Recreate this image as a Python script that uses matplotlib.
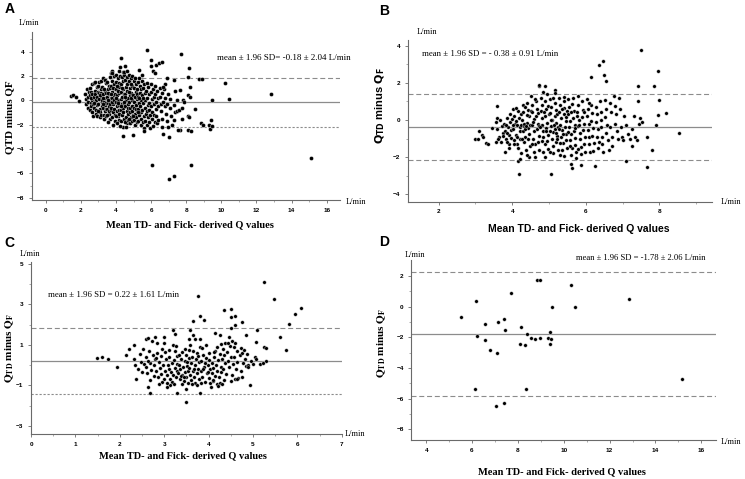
import matplotlib
matplotlib.use('Agg')
import matplotlib.pyplot as plt
import numpy as np
from matplotlib.ticker import FixedLocator

SERIF = 'Liberation Serif'
SANS = 'Liberation Sans'
W, H = 745.0, 479.0

# ---------------- panel A : all patients ----------------
a_pts = [
    # left stragglers
    (1.42, 0.38), (1.53, 0.44), (1.73, 0.30), (1.90, -0.05),
    # main cluster, read column by column
    (2.25, 0.5), (2.3, 0.1), (2.28, -0.3), (2.35, 0.9), (2.4, -0.6), (2.42, 0.3), (2.38, -0.1), (2.45, 0.7),
    (2.5, 1.0), (2.52, 0.4), (2.55, -0.2), (2.5, -0.8), (2.6, 0.7), (2.62, 0.0), (2.58, -0.5), (2.65, 1.3),
    (2.68, 0.2), (2.66, -1.0), (2.7, -0.3), (2.55, 0.15), (2.62, 0.55), (2.7, -1.3),
    (2.75, 1.4), (2.78, 0.8), (2.72, 0.3), (2.8, -0.1), (2.76, -0.6), (2.85, -1.1), (2.82, 0.5), (2.9, 1.1),
    (2.88, 0.0), (2.92, -0.4), (2.95, 0.7), (2.86, -0.8), (2.93, 0.25), (2.8, 1.5), (2.74, -0.25), (2.9, -1.3),
    (3.0, 1.2), (3.02, 0.6), (3.05, 0.1), (3.0, -0.3), (3.08, -0.7), (3.1, -1.0), (3.12, 0.9), (3.15, 0.35),
    (3.18, -0.15), (3.2, -0.5), (3.05, 1.5), (3.1, -1.4), (3.14, 1.6), (3.17, 0.6), (3.0, -0.9), (3.2, 0.0),
    (3.07, 0.4), (3.15, -1.2),
    (3.25, 1.8), (3.22, 1.1), (3.28, 0.5), (3.3, -0.1), (3.26, -0.6), (3.32, -1.2), (3.35, 0.8), (3.38, 0.2),
    (3.4, -0.4), (3.36, -0.9), (3.42, 1.4), (3.45, 0.6), (3.44, -0.2), (3.3, -1.5), (3.38, 1.7), (3.24, 0.2),
    (3.33, 0.95), (3.41, -0.75), (3.28, -0.3), (3.45, -1.3),
    (3.5, 1.5), (3.52, 0.9), (3.48, 0.3), (3.55, -0.2), (3.5, -0.7), (3.58, -1.1), (3.6, 1.2), (3.62, 0.5),
    (3.65, -0.05), (3.6, -0.5), (3.68, -1.5), (3.55, -1.8), (3.7, 2.2), (3.66, 1.0), (3.7, 0.2), (3.63, -0.9),
    (3.52, 0.6), (3.57, 0.0), (3.68, -0.3), (3.49, -1.2), (3.64, 1.9), (3.7, -0.8),
    (3.75, 2.4), (3.78, 1.6), (3.72, 1.2), (3.8, 0.7), (3.76, 0.2), (3.82, -0.3), (3.74, -0.6), (3.85, -1.0),
    (3.8, -1.4), (3.88, 2.0), (3.9, 1.3), (3.86, 0.4), (3.92, -0.1), (3.9, -0.7), (3.95, -1.7), (3.84, -2.0),
    (3.94, 0.9), (3.78, -0.15), (3.83, 1.0), (3.93, -1.2), (3.73, 0.5), (3.89, 0.05), (3.8, 2.2), (3.95, 0.5),
    (4.0, 2.1), (4.02, 1.5), (3.98, 0.9), (4.05, 0.4), (4.0, -0.1), (4.08, -0.5), (4.04, -0.9), (4.1, -1.3),
    (4.12, 1.8), (4.15, 1.1), (4.18, 0.6), (4.14, 0.0), (4.2, -0.4), (4.16, -0.8), (4.2, -1.6), (4.06, -1.9),
    (4.1, 0.8), (4.18, 1.4), (4.02, 0.2), (4.13, -0.2), (4.19, 2.4), (3.99, -1.3), (4.07, 1.2), (4.17, -1.1),
    (4.25, 2.7), (4.22, 2.0), (4.28, 1.3), (4.3, 0.7), (4.26, 0.1), (4.32, -0.3), (4.28, -0.8), (4.35, -1.2),
    (4.3, -1.7), (4.38, 2.3), (4.4, 1.6), (4.42, 0.9), (4.36, 0.3), (4.44, -0.2), (4.4, -0.6), (4.45, -1.5),
    (4.38, -2.2), (4.24, -2.1), (4.33, 1.0), (4.43, 0.5), (4.27, -0.45), (4.41, -1.0), (4.35, 1.9), (4.45, 2.1),
    (4.5, 2.8), (4.48, 2.3), (4.52, 1.7), (4.55, 1.1), (4.5, 0.5), (4.58, 0.0), (4.54, -0.5), (4.6, -0.9),
    (4.56, -1.4), (4.62, -1.9), (4.65, 2.4), (4.68, 1.4), (4.64, 0.8), (4.7, 0.2), (4.66, -0.3), (4.7, -1.1),
    (4.6, 1.9), (4.49, -1.8), (4.57, -2.2), (4.68, -1.6), (4.53, 0.3), (4.61, 1.3), (4.69, -0.65), (4.47, -0.1),
    (4.75, 2.1), (4.72, 1.6), (4.78, 1.0), (4.8, 0.4), (4.76, -0.1), (4.82, -0.6), (4.78, -1.0), (4.85, -1.4),
    (4.8, -1.9), (4.88, 1.8), (4.9, 1.2), (4.86, 0.6), (4.92, 0.0), (4.9, -0.5), (4.95, -1.2), (4.94, -1.7),
    (4.73, 0.7), (4.84, 0.15), (4.91, -0.9), (4.77, -1.5), (4.93, 2.0), (4.83, 1.35),
    (5.0, 1.6), (5.02, 1.0), (4.98, 0.4), (5.05, -0.1), (5.0, -0.6), (5.08, -1.1), (5.04, -1.6), (5.1, -2.0),
    (5.12, 1.3), (5.15, 0.7), (5.18, 0.1), (5.14, -0.4), (5.2, -0.9), (5.16, -1.4), (5.1, 1.8), (5.06, 0.3),
    (5.19, -1.8), (4.99, -1.3), (5.13, -0.7), (5.2, 0.5),
    (5.25, 1.5), (5.22, 0.9), (5.28, 0.3), (5.3, -0.2), (5.26, -0.7), (5.32, -1.2), (5.28, -1.7), (5.35, 1.2),
    (5.38, 0.6), (5.4, 0.0), (5.36, -0.5), (5.42, -1.0), (5.4, -1.5), (5.45, -2.0), (5.24, -1.0), (5.33, 0.15),
    (5.44, 0.9), (5.3, 1.8),
    (5.5, 1.6), (5.52, 1.0), (5.48, 0.4), (5.55, -0.2), (5.5, -0.8), (5.58, -1.3), (5.54, -1.8), (5.6, -2.3),
    (5.62, 1.3), (5.65, 0.6), (5.68, 0.0), (5.64, -0.6), (5.7, -1.1), (5.66, -1.7), (5.57, -2.5), (5.52, 0.2),
    (5.75, 1.4), (5.72, 0.8), (5.78, 0.2), (5.8, -0.4), (5.76, -0.9), (5.82, -1.4), (5.78, -2.0), (5.85, 1.1),
    (5.88, 0.5), (5.9, -0.2), (5.86, -0.8), (5.92, -1.2), (5.9, -1.8), (5.95, -2.3),
    (6.0, 1.3), (6.02, 0.7), (6.05, 0.1), (6.0, -0.5), (6.08, -1.0), (6.04, -1.5), (6.1, -2.1), (6.12, 0.9),
    (6.15, 0.3), (6.18, -0.3), (6.14, -1.2), (6.2, -1.8),
    (6.25, 1.2), (6.22, 0.5), (6.28, -0.1), (6.3, -0.7), (6.26, -1.3), (6.32, -1.9), (6.35, 0.8), (6.4, 0.2),
    (6.38, -0.5), (6.42, -1.6),
    (6.5, 1.0), (6.52, 0.3), (6.55, -0.3), (6.58, -0.9), (6.6, -1.5), (6.65, 0.6), (6.68, -0.1), (6.62, -2.2),
    (6.75, 0.9), (6.8, 0.2), (6.78, -0.5), (6.85, -1.1), (6.9, -1.7), (6.95, 0.5), (6.92, -0.3), (6.98, -2.2),
    (7.05, 0.1), (7.1, -0.6), (7.15, -1.3), (7.2, -2.0), (7.3, -0.4), (7.35, -1.0), (7.45, 0.0), (7.5, -0.9),
    # scattered points outside the cluster
    (4.27, 3.44), (5.75, 4.13), (5.98, 3.3), (7.7, 3.77), (8.16, 2.62), (6.0, 2.8), (6.1, 2.4), (6.3, 2.9),
    (6.45, 3.05), (6.6, 3.15), (6.2, 2.2), (8.75, 1.75), (8.88, 1.72), (10.23, 1.45), (9.45, 0.03),
    (10.45, 0.08), (12.85, 0.55), (15.12, -4.7), (6.07, -5.27), (8.27, -5.27), (7.02, -6.42), (7.32, -6.2),
    (4.38, -2.9), (4.99, -2.87), (6.7, -2.8), (7.04, -2.98), (7.65, -2.43), (8.08, -2.45), (8.25, -2.49),
    (8.48, -0.68), (8.85, -1.9), (8.95, -2.0), (9.3, -2.05), (9.35, -2.35), (9.4, -1.65), (9.45, -2.1),
    (8.12, 1.88), (8.2, 1.05), (8.12, 0.45), (8.2, 0.3), (7.8, 0.0), (7.9, -0.1), (7.57, -0.8), (7.75, -0.6),
    (7.75, -1.55), (8.12, -1.3), (8.18, -1.4), (7.3, 1.7), (7.35, 0.8), (7.65, 0.85), (6.8, 1.35), (6.7, 1.05),
    (5.5, 2.1), (5.3, 2.5), (6.9, 1.8), (7.3, -1.6), (7.55, -2.4),
]
a_mean, a_hi, a_lo = -0.18, 1.86, -2.22

# ---------------- panel B ----------------
b_pts = [
    (3.0, -1.0), (3.07, -1.0), (3.1, -0.58), (3.18, -0.8), (3.22, -0.93), (3.3, -1.22), (3.33, -1.3),
    (3.59, 0.75), (3.45, -0.45),
    (3.55, -0.1), (3.6, 0.1), (3.58, -0.5), (3.65, -0.9), (3.7, -1.2), (3.72, -0.35), (3.62, -1.0), (3.68, 0.0),
    (3.74, -0.7), (3.56, -1.2),
    (3.78, -0.2), (3.8, -0.6), (3.82, -1.0), (3.85, 0.1), (3.88, -0.4), (3.9, -0.8), (3.92, -1.3), (3.95, -0.1),
    (3.98, -0.55), (3.8, -1.7), (3.86, -1.2), (3.93, 0.3), (3.97, -0.95), (3.76, -0.85), (3.84, -0.3),
    (3.9, -1.5), (3.99, 0.05), (3.87, -0.7),
    (4.02, 0.6), (4.05, 0.2), (4.08, -0.2), (4.03, -0.5), (4.1, -0.8), (4.06, -1.1), (4.12, -1.3), (4.15, 0.5),
    (4.18, 0.1), (4.14, -0.3), (4.2, -0.6), (4.22, -1.0), (4.16, -1.5), (4.24, -1.8), (4.1, 0.65), (4.01, -0.3),
    (4.2, -0.4), (4.09, -0.05), (4.25, 0.3), (4.13, -0.9), (4.23, -0.25), (4.04, -1.3),
    (4.28, 0.8), (4.3, 0.4), (4.27, 0.0), (4.32, -0.35), (4.29, -0.6), (4.35, -0.9), (4.33, -1.2), (4.38, -1.6),
    (4.4, 0.9), (4.42, 0.55), (4.45, 0.2), (4.4, -0.15), (4.44, -0.45), (4.47, -0.75), (4.43, -1.05),
    (4.48, -1.4), (4.46, -2.0), (4.36, -0.5), (4.31, -0.2), (4.39, 0.25), (4.49, -0.3), (4.34, 0.7),
    (4.26, -1.0), (4.41, -1.9), (4.5, 0.5), (4.37, -0.35),
    (4.52, 1.3), (4.55, 0.8), (4.53, 0.4), (4.58, 0.05), (4.55, -0.3), (4.6, -0.6), (4.57, -1.0), (4.62, -1.3),
    (4.6, -1.7), (4.65, 1.0), (4.68, 0.6), (4.66, 0.2), (4.7, -0.2), (4.67, -0.5), (4.72, -0.85), (4.7, -1.2),
    (4.74, -1.6), (4.72, 1.8), (4.63, -2.0), (4.56, -0.1), (4.69, 0.35), (4.61, 1.1), (4.73, -0.35),
    (4.54, -1.3),
    (4.78, 1.2), (4.8, 0.8), (4.77, 0.5), (4.82, 0.1), (4.8, -0.25), (4.85, -0.6), (4.83, -0.9), (4.88, -1.3),
    (4.85, -1.7), (4.9, 1.0), (4.92, 0.6), (4.9, 0.2), (4.95, -0.15), (4.93, -0.45), (4.97, -0.8),
    (4.95, -1.15), (4.98, -1.55), (4.88, -2.0), (4.95, 1.4), (4.81, -1.15), (4.86, 0.4), (4.99, 0.3),
    (4.76, -0.4), (4.91, -0.6), (4.84, 1.5), (4.96, 0.75),
    (5.02, 1.1), (5.05, 0.7), (5.03, 0.35), (5.08, 0.0), (5.05, -0.35), (5.1, -0.65), (5.07, -1.0),
    (5.12, -1.4), (5.1, -1.8), (5.15, 0.9), (5.18, 0.55), (5.15, 0.2), (5.2, -0.15), (5.17, -0.5),
    (5.22, -0.85), (5.2, -1.2), (5.24, -1.6), (5.02, -1.7), (5.13, -0.3), (5.23, 0.3), (5.06, 0.0),
    (5.19, -0.7), (5.11, 1.2), (5.25, -0.4), (5.04, -0.6), (5.21, -1.0),
    (5.28, 1.2), (5.3, 0.8), (5.27, 0.45), (5.32, 0.1), (5.3, -0.25), (5.35, -0.55), (5.33, -0.9),
    (5.38, -1.25), (5.36, -1.6), (5.4, 1.0), (5.42, 0.65), (5.4, 0.3), (5.45, -0.05), (5.43, -0.4),
    (5.47, -0.75), (5.45, -1.1), (5.48, -1.5), (5.4, -1.95), (5.42, 1.25), (5.29, -1.25), (5.34, 0.6),
    (5.47, 0.15), (5.26, -0.5), (5.39, -0.75), (5.5, 0.5), (5.31, -1.9),
    (5.52, 1.1), (5.55, 0.7), (5.53, 0.3), (5.58, -0.05), (5.55, -0.4), (5.6, -0.75), (5.57, -1.1),
    (5.62, -1.5), (5.6, -1.9), (5.65, 1.2), (5.68, 0.5), (5.66, 0.1), (5.7, -0.25), (5.67, -0.6),
    (5.72, -0.95), (5.7, -1.35), (5.74, -1.75), (5.63, 0.85), (5.75, 0.2), (5.56, -1.4), (5.71, -0.45),
    (5.59, 0.4), (5.73, -2.05), (5.51, -0.65),
    (5.78, 1.3), (5.8, 0.8), (5.77, 0.4), (5.82, 0.0), (5.8, -0.35), (5.85, -0.7), (5.83, -1.05),
    (5.88, -1.45), (5.86, -1.85), (5.9, 1.0), (5.92, 0.55), (5.9, 0.15), (5.95, -0.2), (5.93, -0.55),
    (5.97, -0.9), (5.95, -1.3), (5.98, -1.7), (5.82, -0.25), (5.96, 0.4), (5.79, -1.55),
    (6.02, 1.1), (6.05, 0.6), (6.03, 0.2), (6.08, -0.2), (6.05, -0.55), (6.1, -0.9), (6.08, -1.3),
    (6.12, -1.7), (6.15, 0.8), (6.18, 0.35), (6.15, -0.05), (6.2, -0.45), (6.18, -0.85), (6.22, -1.25),
    (6.2, -1.65), (6.1, 0.9),
    (6.28, 0.7), (6.3, 0.3), (6.27, -0.1), (6.32, -0.5), (6.3, -0.9), (6.35, -1.2), (6.33, -1.5), (6.38, 1.0),
    (6.4, 0.45), (6.42, 0.0), (6.4, -0.4), (6.45, -0.9), (6.43, -1.3), (6.47, -1.75),
    (6.52, 1.05), (6.55, 0.6), (6.53, 0.15), (6.58, -0.25), (6.55, -0.7), (6.6, -1.1), (6.62, -1.6),
    (6.65, 0.9), (6.68, 0.4), (6.66, -0.4), (6.7, -0.9), (6.72, -1.4),
    (6.78, 1.3), (6.8, 0.75), (6.82, 0.3), (6.8, -0.2), (6.85, -0.6), (6.88, -1.05), (6.9, 1.2), (6.92, 0.6),
    (6.95, -0.4), (6.98, -0.9),
    (7.05, 0.2), (7.1, -0.3), (7.15, -0.75), (7.2, -1.0), (7.25, -0.5), (7.3, 0.2), (7.35, -0.9), (7.4, -1.1),
    (7.45, -0.2), (7.48, 0.1),
    (6.14, 2.3), (6.35, 2.97), (6.47, 3.18), (6.5, 2.43), (6.55, 2.12), (7.5, 3.74), (7.96, 2.64),
    (7.85, 1.8), (7.41, 1.83), (7.41, 1.04), (7.98, 1.08), (8.17, 0.36), (7.95, 0.27), (7.92, -0.27),
    (8.53, -0.72), (7.52, -0.13), (7.67, -0.9), (7.8, -1.62), (7.65, -2.52), (7.1, -2.2), (6.25, -2.5),
    (4.18, -2.9), (5.05, -2.9), (5.63, -2.6), (5.6, -2.35), (5.88, -2.4), (4.15, -2.2), (4.2, -2.1),
    (4.74, 1.89), (4.9, 1.84), (5.17, 1.62), (5.15, 1.44), (7.25, -1.4), (7.0, -1.1),
]
b_mean, b_hi, b_lo = -0.38, 1.42, -2.16

# ---------------- panel C ----------------
c_pts = [
    (1.48, 0.37), (1.59, 0.4), (1.74, 0.32), (1.93, -0.09), (2.14, 0.49), (2.2, 0.82), (2.31, 1.02),
    (2.36, -0.7),
    (2.32, 0.3), (2.35, 0.0), (2.4, -0.2), (2.45, 0.55), (2.48, 0.15), (2.5, -0.35), (2.52, 0.8), (2.55, 0.05),
    (2.58, -0.1), (2.6, 0.4), (2.62, -0.4), (2.65, 0.7), (2.67, 0.1), (2.7, -0.25), (2.72, 1.2), (2.74, 0.5),
    (2.76, -0.55), (2.78, 0.0), (2.6, 1.3), (2.68, -0.75), (2.8, 0.3), (2.63, 0.2),
    (2.82, -0.3), (2.84, 0.6), (2.86, -0.6), (2.88, 0.15), (2.9, -0.15), (2.92, 0.45), (2.94, -0.45),
    (2.96, 0.8), (2.98, 0.0), (3.0, -0.7), (3.02, -0.3), (3.04, 0.3), (2.85, 1.1), (2.95, -0.85), (3.0, 1.4),
    (2.89, -0.95), (3.03, 0.65), (2.81, 0.35),
    (3.07, -0.5), (3.08, 0.0), (3.1, -0.2), (3.12, 0.4), (3.13, -0.7), (3.15, -0.35), (3.17, 0.1),
    (3.18, -0.85), (3.2, -0.5), (3.22, 0.25), (3.24, -0.15), (3.25, 0.7), (3.27, -0.6), (3.28, -0.3),
    (3.3, 0.05), (3.1, 0.75), (3.2, 1.0), (3.14, -1.0), (3.26, 0.95), (3.06, -0.9), (3.23, -0.95), (3.29, 0.45),
    (3.32, -0.4), (3.33, 0.0), (3.35, -0.7), (3.36, -0.2), (3.38, 0.3), (3.4, -0.5), (3.41, 0.65),
    (3.43, -0.1), (3.44, -0.8), (3.46, 0.2), (3.47, -0.35), (3.49, 0.5), (3.5, -0.6), (3.52, -0.05),
    (3.53, -0.9), (3.55, 0.35), (3.34, 0.5), (3.4, -0.95), (3.48, 0.8), (3.54, -0.3), (3.37, -0.55),
    (3.51, 0.15), (3.45, -0.6), (3.55, 0.75),
    (3.57, -0.15), (3.58, -0.5), (3.6, 0.1), (3.61, -0.75), (3.63, 0.4), (3.64, -0.3), (3.66, 0.7),
    (3.67, -0.6), (3.69, 0.0), (3.7, -0.9), (3.72, 0.3), (3.73, -0.4), (3.75, 0.6), (3.76, -0.2),
    (3.78, -0.7), (3.79, 0.15), (3.58, 1.0), (3.65, 1.5), (3.7, 1.3), (3.62, -0.95), (3.74, -1.0), (3.8, 0.9),
    (3.68, -0.2), (3.77, 0.45),
    (3.82, -0.3), (3.84, 0.2), (3.86, -0.6), (3.88, 0.5), (3.9, -0.1), (3.92, -0.85), (3.94, 0.35),
    (3.96, -0.4), (3.98, 0.0), (4.0, -0.65), (4.02, 0.25), (4.04, -0.2), (3.85, 0.85), (3.95, 1.0),
    (4.0, 0.6), (3.83, -0.9), (3.91, 0.1), (4.03, -0.9), (3.87, -0.2), (3.99, -0.35),
    (4.07, -0.4), (4.08, 0.1), (4.1, -0.15), (4.12, 0.4), (4.14, -0.55), (4.15, 0.7), (4.17, 0.0),
    (4.19, -0.3), (4.2, 0.9), (4.22, 0.25), (4.24, -0.6), (4.25, 0.55), (4.27, -0.1), (4.29, 1.05),
    (4.3, 0.3), (4.1, -0.8), (4.18, -0.95), (4.26, -0.9), (4.13, 0.65), (4.28, -0.35),
    (4.32, 0.8), (4.33, -0.2), (4.35, 0.5), (4.37, 0.1), (4.38, 1.1), (4.4, -0.45), (4.42, 0.65), (4.44, 0.2),
    (4.45, 1.4), (4.47, -0.1), (4.48, 0.95), (4.5, 0.4), (4.52, -0.5), (4.53, 1.2), (4.55, 0.05),
    (4.35, -0.75), (4.43, 1.1), (4.5, -0.8),
    (4.57, 0.9), (4.58, 0.4), (4.6, 1.1), (4.62, -0.2), (4.63, 0.7), (4.65, 0.15), (4.67, -0.65), (4.7, 0.5),
    (4.72, 0.85), (4.74, -0.3), (4.76, 0.6), (4.78, 0.1), (4.6, -0.7), (4.8, 0.75),
    (4.82, 0.3), (4.84, -0.05), (4.86, 0.55), (4.88, 0.0), (4.9, -0.1), (4.95, 0.2), (5.0, 0.05), (5.05, 0.4),
    (5.24, 4.09), (5.47, 3.28), (5.94, 2.55), (6.09, 2.85), (5.82, 2.06), (5.6, 1.41), (5.75, 0.74),
    (3.77, 3.43), (3.8, 2.42), (3.9, 2.22), (3.64, 2.16), (4.35, 2.72), (4.5, 2.8), (4.5, 2.36), (4.6, 2.42),
    (4.76, 2.12), (4.6, 1.98), (4.5, 1.83), (3.2, 1.76), (3.24, 1.55), (3.58, 1.74), (3.57, 1.28),
    (3.81, 1.28), (4.14, 1.6), (4.26, 1.48), (4.85, 1.51), (5.09, 1.76), (5.07, 1.15), (5.26, 0.9),
    (5.29, 0.85), (4.94, -0.99), (5.07, 0.3), (5.16, 0.04), (5.29, 0.2), (5.22, 0.1), (2.68, -1.38),
    (2.64, -1.08), (3.28, -1.36), (3.49, -1.16), (3.49, -1.81), (3.8, -1.38), (4.05, -1.08), (4.22, -1.05),
    (4.3, -0.95), (4.11, -0.75), (3.06, -1.08), (2.63, 1.35), (2.8, 1.38), (3.0, 1.1), (4.65, -0.7),
    (4.75, -0.6),
]
c_mean, c_hi, c_lo = 0.22, 1.86, -1.41

# ---------------- panel D ----------------
d_pts = [
    (5.53, -0.7), (6.17, 0.39), (6.14, -5.37), (6.23, -1.89), (6.55, -1.13), (6.55, -2.15), (6.79, -2.83),
    (7.05, -6.48), (7.08, -3.04), (7.13, -1.02), (7.4, -0.8), (7.4, -6.26), (7.45, -1.52), (7.71, 0.87),
    (8.12, -1.3), (8.09, -2.43), (8.29, -2.52), (8.35, -5.37), (8.39, -1.8), (8.58, -2.02), (8.76, -2.13),
    (8.83, 1.74), (8.95, 1.72), (8.97, -2.02), (9.31, -2.02), (9.4, -1.67), (9.4, -2.43), (9.44, -2.13),
    (9.5, -0.02), (10.3, 1.39), (10.5, 0.0), (12.85, 0.5), (15.17, -4.74),
]
d_mean, d_hi, d_lo = -1.78, 2.25, -5.83

ylab_plain = 'QTD minus QF'
ylab_sub = r'$\mathbf{Q_{TD}}$ minus $\mathbf{Q_{F}}$'
xlab = 'Mean TD- and Fick- derived Q values'

fig = plt.figure(figsize=(7.45, 4.79), dpi=100)


def rect(l, r, b, t):
    # pixel box -> figure fraction
    return [l / W, 1 - b / H, (r - l) / W, (b - t) / H]


def ftext(px, py, s, **kw):
    fig.text(px / W, 1 - py / H, s, **kw)


def panel(box, pts, mean, hi, lo, xlim, ylim, xmaj, xmin, ymaj, ymin, lo_dash, ms=7):
    ax = fig.add_axes(rect(*box))
    pts = np.array(pts)
    ax.scatter(pts[:, 0], pts[:, 1], s=ms, c='black', edgecolors='white',
               linewidths=0.25, zorder=3)
    ax.axhline(mean, color='#8c8c8c', lw=0.9, zorder=2)
    ax.axhline(hi, color='#8c8c8c', lw=0.8, ls=(0, (4.5, 2.5)), zorder=2)
    ax.axhline(lo, color='#8c8c8c', lw=0.8, ls=lo_dash, zorder=2)
    ax.set_xlim(xlim)
    ax.set_ylim(ylim)
    ax.spines['top'].set_visible(False)
    ax.spines['right'].set_visible(False)
    for s in ['left', 'bottom']:
        ax.spines[s].set_color('#6a6a6a')
        ax.spines[s].set_linewidth(0.8)
    ax.xaxis.set_major_locator(FixedLocator(xmaj))
    ax.xaxis.set_minor_locator(FixedLocator(xmin))
    ax.yaxis.set_major_locator(FixedLocator(ymaj))
    ax.yaxis.set_minor_locator(FixedLocator(ymin))
    ax.tick_params(which='major', length=2.5, width=0.6, color='#6a6a6a', pad=3,
                   labelsize=4.6)
    ax.tick_params(which='minor', length=1.6, width=0.5, color='#8a8a8a')
    for lab in ax.get_xticklabels() + ax.get_yticklabels():
        lab.set_fontfamily(SANS)
        lab.set_fontweight('bold')
    return ax


dotted = (0, (2, 1.6))
dashed = (0, (4.5, 2.5))

panel((31.7, 340, 200.3, 32), a_pts, a_mean, a_hi, a_lo, (-0.8, 16.76), (-8.2, 5.6),
      range(0, 17, 2), range(1, 17, 2), range(-8, 5, 2), range(-7, 6, 2), dotted, ms=8.5)
panel((407.7, 712, 201.7, 40), b_pts, b_mean, b_hi, b_lo, (1.16, 9.43), (-4.4, 4.3),
      [2, 4, 6, 8], [3, 5, 7, 9], [-4, -2, 0, 2, 4], [-3, -1, 1, 3], dashed)
panel((31, 341.7, 434, 262), c_pts, c_mean, c_hi, c_lo, (0, 7), (-3.4, 5.1),
      range(0, 8), np.arange(0.5, 7, 1.0), [-3, -1, 1, 3, 5], [-2, 0, 2, 4], dotted)
panel((411.3, 716, 440, 260), d_pts, d_mean, d_hi, d_lo, (3.35, 16.64), (-8.7, 3.05),
      range(4, 17, 2), range(5, 17, 2), range(-8, 3, 2), range(-7, 3, 2), dashed)

# panel letters
for px, py, s in [(10, 9, 'A'), (384, 11, 'B'), (9, 243, 'C'), (384, 242, 'D')]:
    ftext(px, py, s, fontsize=10, fontweight='bold', family=SANS, ha='center', va='center')

# unit labels
for px, py in [(29, 23), (356, 202), (427, 32), (731, 202), (30, 254), (355, 434), (415, 255), (731, 442)]:
    ftext(px, py, 'L/min', fontsize=6, family=SERIF, ha='center', va='center')

# mean +- sd annotations
ftext(217, 58, 'mean \u00b1 1.96 SD= -0.18 \u00b1 2.04 L/min', fontsize=6.5, family=SERIF, va='center')
ftext(422, 54, 'mean \u00b1 1.96 SD = - 0.38 \u00b1 0.91 L/min', fontsize=6.3, family=SERIF, va='center')
ftext(48, 295, 'mean \u00b1 1.96 SD = 0.22 \u00b1 1.61 L/min', fontsize=6.3, family=SERIF, va='center')
ftext(576, 258, 'mean \u00b1 1.96 SD = -1.78 \u00b1 2.06 L/min', fontsize=6.2, family=SERIF, va='center')

# axis titles
ftext(190, 225, xlab, fontsize=7.5, fontweight='bold', family=SERIF, ha='center', va='center')
ftext(579, 229, xlab, fontsize=7.5, fontweight='bold', family=SANS, ha='center', va='center')
ftext(183, 456, xlab, fontsize=7.5, fontweight='bold', family=SERIF, ha='center', va='center')
ftext(562, 472, xlab, fontsize=7.5, fontweight='bold', family=SERIF, ha='center', va='center')

ftext(10, 117, ylab_plain, fontsize=8, fontweight='bold', family=SERIF, rotation=90,
      ha='center', va='center')
ftext(380, 106, ylab_sub, fontsize=8, fontweight='bold', family=SANS, rotation=90,
      ha='center', va='center', math_fontfamily='dejavusans')
ftext(10, 348, ylab_sub, fontsize=8, fontweight='bold', family=SERIF, rotation=90,
      ha='center', va='center', math_fontfamily='stix')
ftext(382, 343, ylab_sub, fontsize=8, fontweight='bold', family=SERIF, rotation=90,
      ha='center', va='center', math_fontfamily='stix')

fig.savefig('out.png', dpi=100)
